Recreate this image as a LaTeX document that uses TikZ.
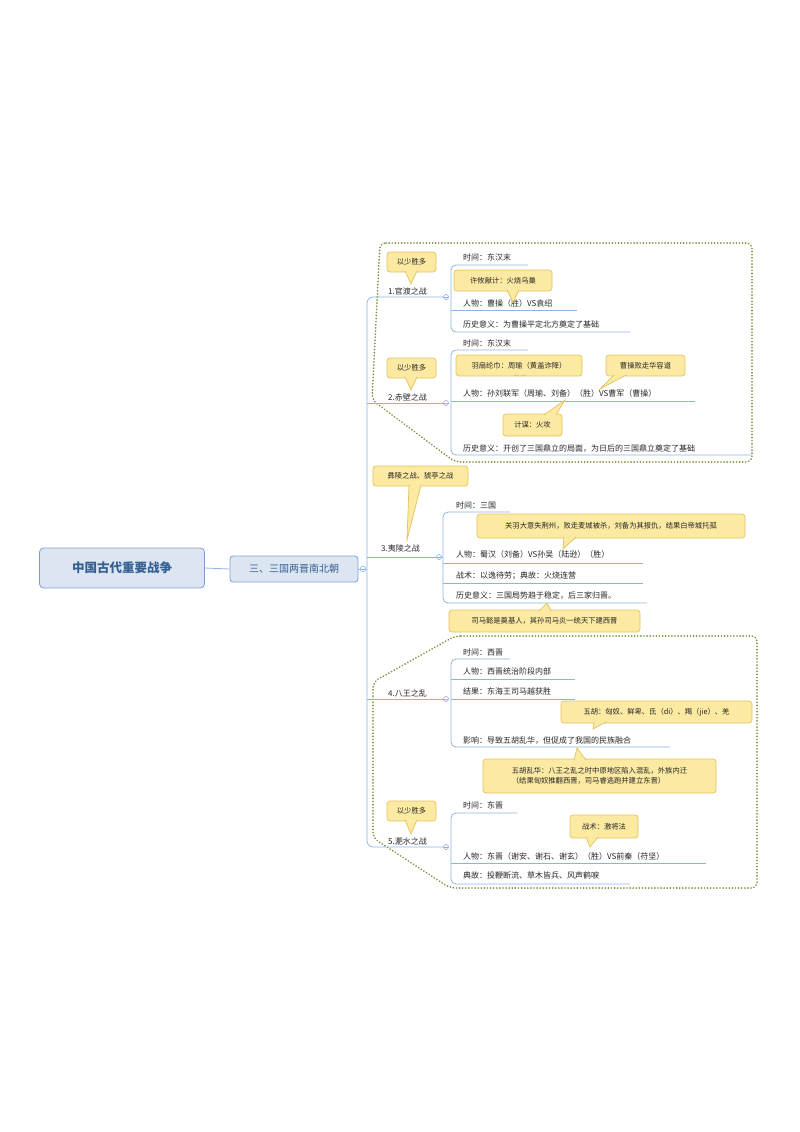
\documentclass[tikz,border=0pt]{standalone}
\usepackage{fontspec}
\setmainfont{Noto Sans CJK SC}
\definecolor{lblue}{HTML}{8DB3E2}
\definecolor{rootfill}{HTML}{DCE6F2}
\definecolor{rootdraw}{HTML}{7F9FCF}
\definecolor{roottext}{HTML}{365F91}
\definecolor{cfill}{HTML}{FCE9A2}
\definecolor{cdraw}{HTML}{E3C35A}
\definecolor{dotc}{HTML}{76923C}
\tikzset{
 conn/.style={draw=lblue,line width=0.8pt},
 leaf/.style={anchor=base west,inner sep=0pt,font=\fontsize{8}{9}\selectfont,text=black!85},
 cbox/.style={fill=cfill,draw=cdraw,line width=0.7pt,rounded corners=3pt},
 ctext/.style={font=\fontsize{7.3}{10}\selectfont,text=black!85,align=left},
 dotline/.style={draw=dotc,line width=1.8pt,dash pattern=on 0.1pt off 3pt,line cap=round,rounded corners=6pt},
 coll/.style={draw=lblue,fill=white,line width=0.6pt},
}
\newcommand\callout[9]{%
 \draw[cbox] (#1,#2) rectangle (#3,#4);
 \fill[cfill] (#5-6,#6)--(#7,#8)--(#5+6,#6)--cycle;
 \draw[cdraw,line width=0.7pt] (#5-6,#6)--(#7,#8)--(#5+6,#6);
 \node[ctext] at ({(#1+#3)/2},{(#2+#4)/2}) {#9};}
\begin{document}
\begin{tikzpicture}[x=1pt,y=-1pt]
\useasboundingbox (0,0) rectangle (800,1132);
% dotted regions
\draw[dotline] (380,243)--(752,243)--(752,462)--(455,462)--(372,400)--cycle;
\draw[dotline] (455,636)--(757,636)--(757,888)--(450,888)--(373,838)--(373,682)--cycle;
% root
\node[draw=rootdraw,fill=rootfill,rounded corners=4pt,line width=0.8pt,minimum width=165pt,minimum height=40pt,font=\fontsize{12.5}{14}\selectfont\bfseries,text=roottext] (root) at (122,568) {中国古代重要战争};
\node[draw=rootdraw,fill=rootfill,rounded corners=3pt,line width=0.8pt,minimum width=128pt,minimum height=26pt,font=\fontsize{10}{12}\selectfont,text=roottext] (l1) at (294,569) {三、三国两晋南北朝};
\draw[conn] (root.east)--(l1.west);
% trunk
\coordinate (tr) at (367,569);
\draw[conn,rounded corners=5pt] (l1.east)--(tr);
\draw[conn,rounded corners=6pt] (446,297)--(367,297)--(367,847)--(446,847);
\draw[conn] (367,403)--(446,403);
\draw[conn] (367,557)--(443,557);
\draw[conn] (367,699)--(446,699);
\node[coll,circle,inner sep=2pt] (c0) at (363,569) {};
\draw[lblue,line width=0.6pt] (361,569)--(365,569);
% branch labels
\foreach \n/\t/\y in {b1/1.官渡之战/294,b2/2.赤壁之战/400,b4/4.八王之乱/696,b5/5.淝水之战/844}
 \node[leaf,font=\fontsize{8}{9}\selectfont] (\n) at (388,\y) {\t};
\node[leaf] (b3) at (381,551) {3.夷陵之战};
% collapse circles
\foreach \x/\y in {446/297,446/403,439/557,446/699,446/847}{
 \node[coll,circle,inner sep=1.8pt] at (\x,\y) {};
 \draw[lblue,line width=0.5pt] (\x-1.8,\y)--(\x+1.8,\y);}
% branch 1
\draw[conn,rounded corners=5pt] (528,265)--(451,265)--(451,332)--(630,332);
\draw[conn] (451,310)--(577,310);
\node[leaf] (l11) at (463,260) {时间：东汉末};
\node[leaf] (l12) at (463,306) {人物：曹操（胜）VS袁绍};
\node[leaf] (l13) at (463,327) {历史意义：为曹操平定北方奠定了基础};
% branch 2
\draw[conn,rounded corners=5pt] (528,350)--(451,350)--(451,455)--(752,455);
\draw[conn] (451,401)--(695,401);
\node[leaf] (l21) at (463,346) {时间：东汉末};
\node[leaf] (l22) at (463,396) {人物：孙刘联军（周瑜、刘备）（胜）VS曹军（曹操）};
\node[leaf] (l23) at (463,451) {历史意义：开创了三国鼎立的局面，为日后的三国鼎立奠定了基础};
% branch 3
\draw[conn,rounded corners=5pt] (510,512)--(443,512)--(443,603)--(647,603);
\draw[conn] (443,563)--(643,563);
\draw[conn] (443,583)--(643,583);
\node[leaf] (l31) at (456,508) {时间：三国};
\node[leaf] (l32) at (456,557) {人物：蜀汉（刘备）VS孙吴（陆逊）（胜）};
\node[leaf] (l33) at (456,578) {战术：以逸待劳；典故：火烧连营};
\node[leaf] (l34) at (456,598) {历史意义：三国局势趋于稳定，后三家归晋。};
% branch 4
\draw[conn,rounded corners=5pt] (510,659)--(451,659)--(451,747)--(670,747);
\draw[conn] (451,679)--(575,679);
\draw[conn] (451,699)--(575,699);
\node[leaf] (l41) at (463,655) {时间：西晋};
\node[leaf] (l42) at (463,674) {人物：西晋统治阶段内部};
\node[leaf] (l43) at (463,694) {结果：东海王司马越获胜};
\node[leaf] (l44) at (463,743) {影响：导致五胡乱华，但促成了我国的民族融合};
% branch 5
\draw[conn,rounded corners=5pt] (517,813)--(451,813)--(451,884)--(630,884);
\draw[conn] (451,863)--(706,863);
\node[leaf] (l51) at (463,808) {时间：东晋};
\node[leaf] (l52) at (463,859) {人物：东晋（谢安、谢石、谢玄）（胜）VS前秦（苻坚）};
\node[leaf] (l53) at (463,878) {典故：投鞭断流、草木皆兵、风声鹤唳};
% callouts
\callout{387}{252}{436}{272}{411}{271}{411}{284}{以少胜多}
\callout{387}{358}{436}{378}{411}{377}{411}{390}{以少胜多}
\callout{387}{801}{436}{821}{411}{820}{411}{834}{以少胜多}
\callout{454}{270}{552}{291}{513}{290}{513}{302}{许攸献计：火烧乌巢}
\callout{456}{355}{582}{376}{520}{375}{520}{376}{羽扇纶巾：周瑜（黄盖诈降）}
\callout{606}{355}{685}{376}{620}{375}{600}{389}{曹操败走华容道}
\callout{503}{414}{562}{436}{550}{415}{565}{400}{计谋：火攻}
\callout{373}{466}{468}{486}{415}{485}{407}{540}{彝陵之战、猇亭之战}
\callout{477}{514}{745}{538}{570}{537}{563}{549}{关羽大意失荆州，败走麦城被杀，刘备为其报仇，结果白帝城托孤}
\callout{449}{610}{640}{632}{545}{611}{547}{603}{司马懿是奠基人，其孙司马炎一统天下建西晋}
\callout{561}{701}{752}{723}{600}{722}{593}{729}{五胡：匈奴、鲜卑、氐（di）、羯（jie）、羌}
\callout{483}{759}{716}{793}{580}{760}{577}{748}{五胡乱华：八王之乱之时中原地区陷入混乱，外族内迁\\（结果匈奴推翻西晋，司马睿逃跑并建立东晋）}
\callout{570}{815}{638}{838}{592}{837}{590}{847}{战术：激将法}
\end{tikzpicture}
\end{document}
